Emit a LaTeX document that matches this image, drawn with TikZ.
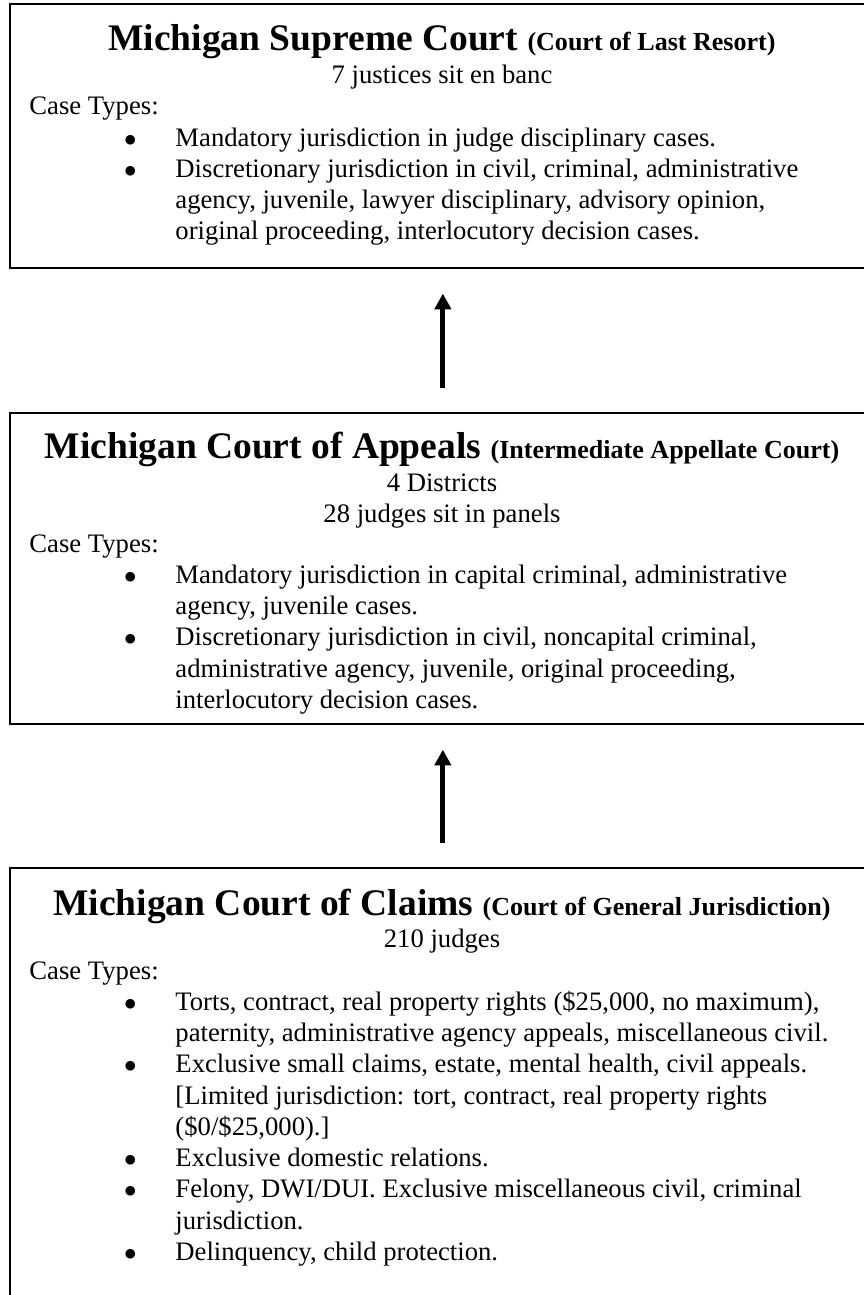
\documentclass[tikz,border=0pt]{standalone}
\usepackage{fontspec}
\setmainfont{Liberation Serif}
\usetikzlibrary{positioning, arrows.meta}
\newcommand{\puce}{\hspace*{45.5pt}$\bullet$}

\begin{document}
\begin{tikzpicture}[
  x=0.48pt, y=-0.48pt,
  font=\fontsize{12.8}{15}\selectfont,
  cour/.style={draw=black, line width=0.8pt, anchor=north west, inner sep=0pt,
               minimum width=415.7pt},
  titre/.style={anchor=base, inner sep=0pt, font=\fontsize{18}{20}\selectfont\bfseries},
  sous/.style={anchor=base, inner sep=0pt},
  liste/.style={anchor=base west, inner sep=0pt},
  fl/.style={-{Triangle[length=7.5pt, width=7.7pt]}, line width=2.3pt},
]
\useasboundingbox (0,0) rectangle (863,1295);
% les trois juridictions
\node[cour, minimum height=126.7pt] (supreme) at (9,3) {};
\node[cour, minimum height=149.3pt] (appeals) at (9,412) {};
\node[cour, minimum height=217.4pt] (claims) at (9,867) {};
% cour supreme
\node[titre] (supremeT) at (442,51)
  {Michigan Supreme Court {\fontsize{12.5}{14}\selectfont (Court of Last Resort)}};
\node[sous] (supremeS) at (442,84) {7 justices sit en banc};
\node[liste] (supremeL) at (29,115) {\begin{tabular}[t]{@{}p{70.1pt}@{}l@{}}
  \multicolumn{2}{@{}l@{}}{Case Types:}\\
  \puce & Mandatory jurisdiction in judge disciplinary cases.\\
  \puce & Discretionary jurisdiction in civil, criminal, administrative\\
        & agency, juvenile, lawyer disciplinary, advisory opinion,\\
        & original proceeding, interlocutory decision cases.
  \end{tabular}};
% cour d'appel
\node[titre] (appealsT) at (442,458)
  {Michigan Court of Appeals {\fontsize{12.5}{14}\selectfont (Intermediate Appellate Court)}};
\node[sous] (appealsD) at (442,491) {4 Districts};
\node[sous] (appealsS) at (442,522) {28 judges sit in panels};
\node[liste] (appealsL) at (29,552) {\begin{tabular}[t]{@{}p{70.1pt}@{}l@{}}
  \multicolumn{2}{@{}l@{}}{Case Types:}\\
  \puce & Mandatory jurisdiction in capital criminal, administrative\\
        & agency, juvenile cases.\\
  \puce & Discretionary jurisdiction in civil, noncapital criminal,\\
        & administrative agency, juvenile, original proceeding,\\
        & interlocutory decision cases.
  \end{tabular}};
% cour des reclamations
\node[titre] (claimsT) at (442,915)
  {Michigan Court of Claims {\fontsize{12.5}{14}\selectfont (Court of General Jurisdiction)}};
\node[sous] (claimsS) at (442,947) {210 judges};
\node[liste] (claimsL) at (29,979) {\begin{tabular}[t]{@{}p{70.1pt}@{}l@{}}
  \multicolumn{2}{@{}l@{}}{Case Types:}\\
  \puce & Torts, contract, real property rights (\$25,000, no maximum),\\
        & paternity, administrative agency appeals, miscellaneous civil.\\
  \puce & Exclusive small claims, estate, mental health, civil appeals.\\
        & [Limited jurisdiction: tort, contract, real property rights\\
        & (\$0/\$25,000).]\\
  \puce & Exclusive domestic relations.\\
  \puce & Felony, DWI/DUI. Exclusive miscellaneous civil, criminal\\
        & jurisdiction.\\
  \puce & Delinquency, child protection.
  \end{tabular}};
% recours
\draw[fl, shorten <=11.5pt, shorten >=12pt] (appeals.north) -- (supreme.south);
\draw[fl, shorten <=11.5pt, shorten >=12pt] (claims.north) -- (appeals.south);
\end{tikzpicture}
\end{document}
